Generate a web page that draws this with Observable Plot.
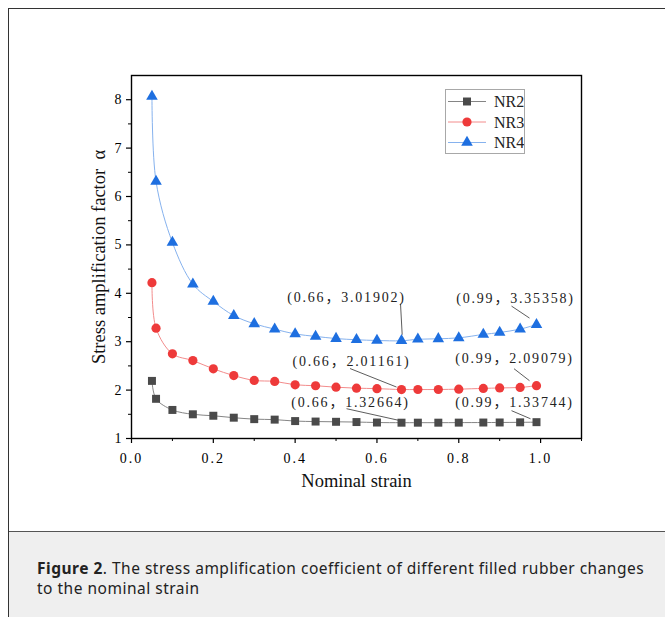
<!DOCTYPE html>
<html>
<head>
<meta charset="utf-8">
<script src="https://cdn.jsdelivr.net/npm/d3@7"></script>
<script src="https://cdn.jsdelivr.net/npm/@observablehq/plot@0.6"></script>
<style>
  html, body { margin: 0; padding: 0; background: #fff; }
  body { width: 665px; height: 617px; overflow: hidden; position: relative; font-family: "Noto Sans", sans-serif; }
  #outer { position: absolute; left: 8px; top: 8px; width: 720px; height: 640px; border-left: 1px solid #333; border-top: 1px solid #333; }
  #chart { position: absolute; left: 0; top: 0; width: 660px; height: 522px; background: #fff; }
  #chart svg { display: block; }
  #cap { position: absolute; left: 0; top: 522px; width: 720px; height: 120px; background: #efefef; border-top: 1px solid #555;
         box-sizing: border-box; padding: 26px 0 0 28px; font-size: 15.5px; letter-spacing: 0.5px; line-height: 20px; color: #222; white-space: nowrap; }
  #legend { position: absolute; left: 436px; top: 80px; width: 80px; height: 65px; box-sizing: border-box; border: 1px solid #a8a8a8; background: #fff; }
</style>
</head>
<body>
<div id="outer">
  <div id="chart"></div>
  <div id="legend"></div>
  <div id="cap"><b>Figure 2</b>. The stress amplification coefficient of different filled rubber changes<br>to the nominal strain</div>
</div>
<script>
// ---------------- data ----------------
const seriesNames = ["NR2", "NR3", "NR4"];
const strain = [0.05, 0.06, 0.1, 0.15, 0.2, 0.25, 0.3, 0.35, 0.4, 0.45, 0.5, 0.55, 0.6, 0.66, 0.7, 0.75, 0.8, 0.86, 0.9, 0.95, 0.99];
const nr2 = [2.19, 1.82, 1.59, 1.50, 1.47, 1.43, 1.40, 1.39, 1.36, 1.35, 1.345, 1.34, 1.33, 1.32664, 1.327, 1.327, 1.328, 1.33, 1.331, 1.334, 1.33744];
const nr3 = [4.22, 3.28, 2.75, 2.61, 2.44, 2.30, 2.20, 2.18, 2.11, 2.09, 2.06, 2.04, 2.03, 2.01161, 2.012, 2.012, 2.02, 2.035, 2.045, 2.055, 2.09079];
const nr4 = [8.07, 6.31, 5.05, 4.19, 3.83, 3.54, 3.37, 3.26, 3.16, 3.11, 3.065, 3.04, 3.025, 3.01902, 3.05, 3.06, 3.08, 3.15, 3.19, 3.26, 3.35358];
const xTicks = [0, 0.2, 0.4, 0.6, 0.8, 1.0];
const xMinorTicks = [0.1, 0.3, 0.5, 0.7, 0.9, 1.1];
const yTicks = [1, 2, 3, 4, 5, 6, 7, 8];
const yMinorTicks = [1.5, 2.5, 3.5, 4.5, 5.5, 6.5, 7.5];
const annotated = [
  { series: "NR4", strain: 0.66, value: 3.01902 },
  { series: "NR4", strain: 0.99, value: 3.35358 },
  { series: "NR3", strain: 0.66, value: 2.01161 },
  { series: "NR3", strain: 0.99, value: 2.09079 },
  { series: "NR2", strain: 0.66, value: 1.32664 },
  { series: "NR2", strain: 0.99, value: 1.33744 }
];
const xLabel = "Nominal strain";
const yLabel = "Stress amplification factor  α";

// ---------------- styles ----------------
const style = {
  NR2: { fill: "#4a4a4a", line: "#858585", symbol: "square", r: 4.5 },
  NR3: { fill: "#ee3a3a", line: "#f38c8c", symbol: "circle", r: 4.6 },
  NR4: { fill: "#1e6fe0", line: "#86b2ee", symbol: "triangle", r: 4.3 }
};
// label offset (px) and leader start/end offsets (px) relative to the annotated point
const annStyle = [
  { dx: -55, dy: -43, l: [-1, -37, 0.7, -6] },
  { dx: -21, dy: -26, l: [-25, -18.5, -7, -6.5] },
  { dx: -50, dy: -28, l: [-51.5, -21, -5, -2.5] },
  { dx: -22, dy: -27, l: [-22.5, -17, -7, -5] },
  { dx: -51, dy: -20.5, l: [-55, -14, -2, -2.2] },
  { dx: -22, dy: -20, l: [-25, -11.5, -6, -3.4] }
];

const W = 660, H = 522, ML = 122, MR = 88, MT = 66, MB = 93;
const xDomain = [0, 1.1], yDomain = [1, 8.5];
const kx = (W - ML - MR) / (xDomain[1] - xDomain[0]);
const ky = (H - MT - MB) / (yDomain[1] - yDomain[0]);

const seriesValues = { NR2: nr2, NR3: nr3, NR4: nr4 };
const rows = seriesNames.flatMap(s => strain.map((x, i) => ({ series: s, x, y: seriesValues[s][i] })));

const serif = "'Liberation Serif', 'Times New Roman', 'Noto Sans CJK SC', serif";

const marks = [];
for (const s of seriesNames) {
  const d = rows.filter(r => r.series === s);
  marks.push(Plot.line(d, { x: "x", y: "y", stroke: style[s].line, strokeWidth: 1, curve: "catmull-rom" }));
}
// leaders
annotated.forEach((a, i) => {
  const o = annStyle[i];
  marks.push(Plot.link([a], {
    x1: d => d.strain + o.l[0] / kx, y1: d => d.value - o.l[1] / ky,
    x2: d => d.strain + o.l[2] / kx, y2: d => d.value - o.l[3] / ky,
    stroke: "#333", strokeWidth: 0.8
  }));
});
for (const s of seriesNames) {
  const d = rows.filter(r => r.series === s);
  marks.push(Plot.dot(d, { x: "x", y: "y", fill: style[s].fill, symbol: () => style[s].symbol, r: style[s].r, stroke: "none" }));
}
annotated.forEach((a, i) => {
  const o = annStyle[i];
  marks.push(Plot.text([a], {
    x: "strain", y: "value", dx: o.dx, dy: o.dy,
    text: d => `(${d.strain}，${d.value.toFixed(5)})`,
    fontSize: 14, fontFamily: serif, fill: "#222"
  }));
});
marks.push(
  Plot.axisX({ ticks: xTicks, tickSize: 5, tickPadding: 10, tickFormat: d3.format(".1f"), label: null,
               fontSize: 14, fontFamily: serif, color: "#000", strokeWidth: 1.2 }),
  Plot.axisX({ ticks: xMinorTicks, tickSize: 3, tickFormat: () => "", label: null, color: "#000", strokeWidth: 1 }),
  Plot.axisY({ ticks: yTicks, tickSize: 5, tickPadding: 5, tickFormat: d3.format("d"), label: null,
               fontSize: 14, fontFamily: serif, color: "#000", strokeWidth: 1.2 }),
  Plot.axisY({ ticks: yMinorTicks, tickSize: 3, tickFormat: () => "", label: null, color: "#000", strokeWidth: 1 }),
  Plot.frame({ stroke: "#000", strokeWidth: 1.4 }),
  Plot.text([xLabel], { frameAnchor: "bottom", dy: 48, text: d => d, fontSize: 18.5, fontFamily: serif, fill: "#111" }),
  Plot.text([yLabel], { frameAnchor: "left", textAnchor: "middle", dx: -32, rotate: -90, text: d => d, fontSize: 18.5, fontFamily: serif, fill: "#111" })
);

const chart = Plot.plot({
  width: W, height: H,
  marginLeft: ML, marginRight: MR, marginTop: MT, marginBottom: MB,
  x: { domain: xDomain },
  y: { domain: yDomain },
  style: { background: "#fff", overflow: "visible", fontFamily: serif, fontSize: "14px" },
  marks
});
document.getElementById("chart").appendChild(chart);
// letter-spacing for annotation labels and x tick labels (SimSun-like wide spacing)
d3.select(chart).selectAll("text")
  .filter(function () { return /^\(/.test(this.textContent); })
  .style("letter-spacing", "1.8px");
d3.select(chart).selectAll("text")
  .filter(function () { return /^\d\.\d$/.test(this.textContent); })
  .style("letter-spacing", "2px");

// ---------------- legend ----------------
const lg = d3.select("#legend").append("svg").attr("width", 78).attr("height", 63);
seriesNames.forEach((s, i) => {
  const cy = 11.5 + i * 20.5;
  lg.append("line").attr("x1", 2).attr("x2", 40).attr("y1", cy).attr("y2", cy).attr("stroke", style[s].line).attr("stroke-width", 1);
  const symType = { square: d3.symbolSquare, circle: d3.symbolCircle, triangle: d3.symbolTriangle }[style[s].symbol];
  const size = Math.PI * style[s].r * style[s].r;
  lg.append("path").attr("d", d3.symbol(symType, size)()).attr("transform", `translate(21,${cy})`).attr("fill", style[s].fill);
  lg.append("text").attr("x", 48).attr("y", cy).attr("dy", "0.35em").attr("font-family", serif).attr("font-size", 16)
    .attr("fill", "#222").text(s);
});
</script>
</body>
</html>
